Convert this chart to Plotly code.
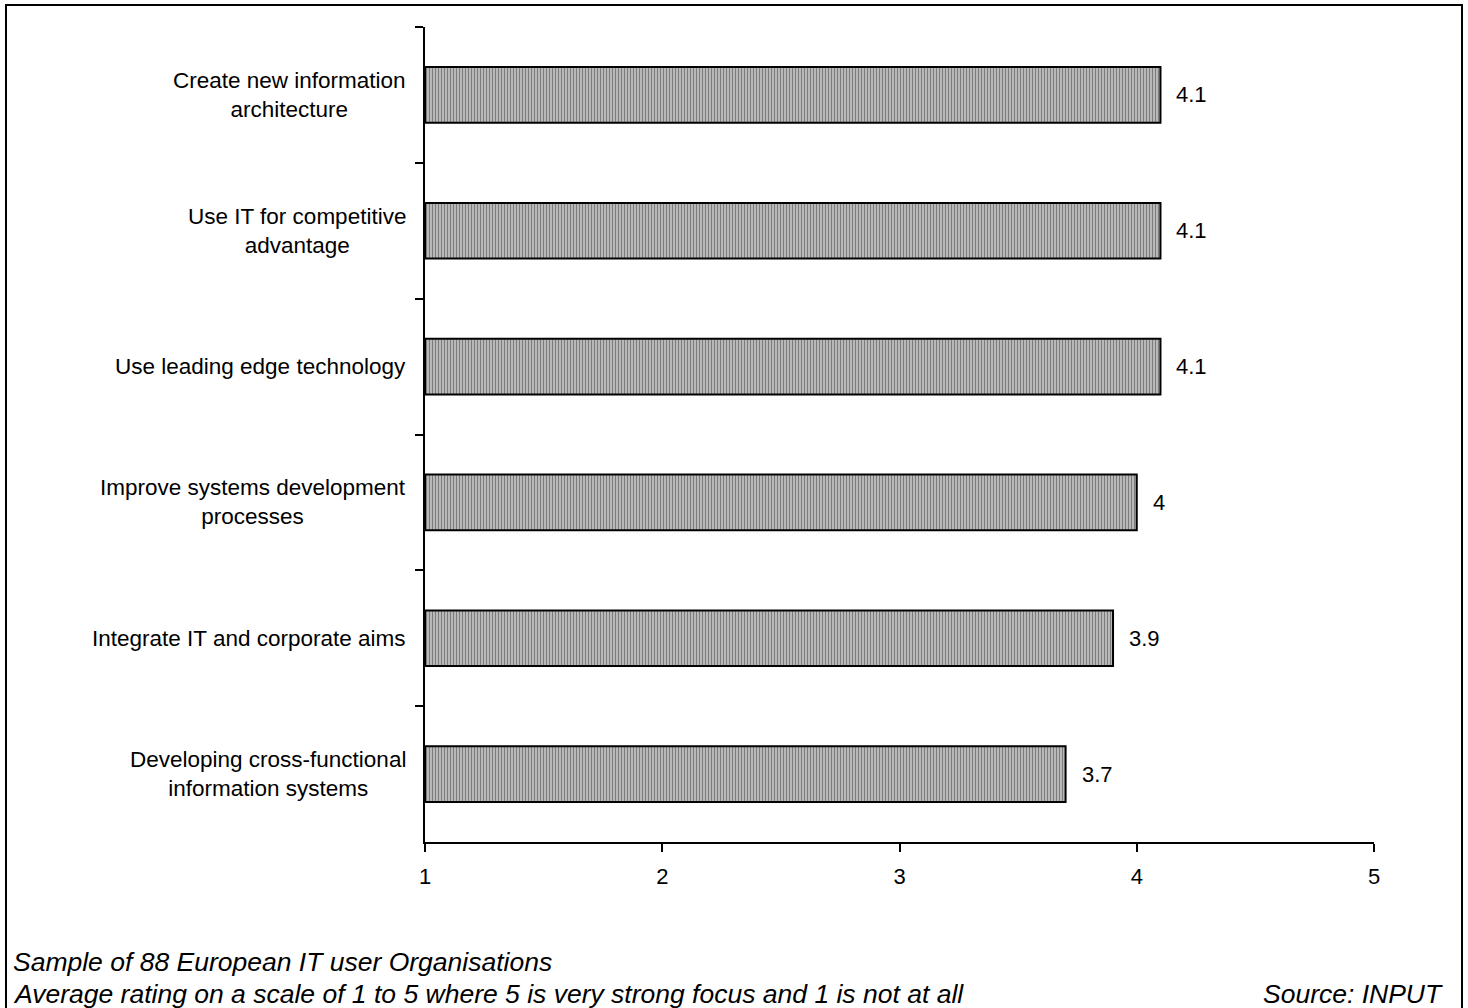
import plotly.graph_objects as go

categories = [
    "Create new information<br>architecture",
    "Use IT for competitive<br>advantage",
    "Use leading edge technology",
    "Improve systems development<br>processes",
    "Integrate IT and corporate aims",
    "Developing cross-functional<br>information systems",
]
values = [4.1, 4.1, 4.1, 4.0, 3.9, 3.7]
value_labels = ["4.1", "4.1", "4.1", "4", "3.9", "3.7"]
x_ticks = [1, 2, 3, 4, 5]
footer_lines = [
    "Sample of 88 European IT user Organisations",
    "Average rating on a scale of 1 to 5 where 5 is very strong focus and 1 is not at all",
]
source_text = "Source: INPUT"

FONT = "Liberation Sans, Arial, sans-serif"
W, H = 1468, 1008
L, R, T, B = 425, 94, 27, 166
PW, PH = W - L - R, H - T - B

def px_x(p):
    return (p - L) / PW

def px_y(p):
    return (H - B - p) / PH

fig = go.Figure()
fig.add_trace(go.Bar(
    x=[v - 1 for v in values],
    base=1,
    y=categories,
    orientation="h",
    width=0.41,
    marker=dict(
        color="#bdbdbd",
        line=dict(color="black", width=2),
        pattern=dict(shape="|", fgcolor="#333333", bgcolor="#c4c4c4", size=3, solidity=0.45),
    ),
    hoverinfo="skip",
))

annotations = []
for c, v, lab in zip(categories, values, value_labels):
    annotations.append(dict(
        x=v, y=c, xref="x", yref="y", text=lab, showarrow=False,
        xanchor="left", yanchor="middle", xshift=14,
        font=dict(family=FONT, size=22, color="black"),
    ))
    annotations.append(dict(
        x=0, y=c, xref="paper", yref="y", text=c, showarrow=False,
        xanchor="right", yanchor="middle", align="center", xshift=-17,
        font=dict(family=FONT, size=22.5, color="black"),
    ))

annotations.append(dict(
    x=px_x(11), y=px_y(962), xref="paper", yref="paper", text=f"<i>{footer_lines[0]}</i>",
    showarrow=False, xanchor="left", yanchor="middle",
    font=dict(family=FONT, size=26.5, color="black"),
))
annotations.append(dict(
    x=px_x(11), y=px_y(994), xref="paper", yref="paper", text=f"<i>{footer_lines[1]}</i>",
    showarrow=False, xanchor="left", yanchor="middle",
    font=dict(family=FONT, size=26.5, color="black"),
))
annotations.append(dict(
    x=px_x(1445), y=px_y(994), xref="paper", yref="paper", text=f"<i>{source_text}</i>",
    showarrow=False, xanchor="right", yanchor="middle",
    font=dict(family=FONT, size=26.5, color="black"),
))

fig.update_layout(
    width=W, height=H,
    margin=dict(l=L, r=R, t=T, b=B),
    paper_bgcolor="white", plot_bgcolor="white",
    showlegend=False,
    annotations=annotations,
    shapes=[dict(
        type="rect", xref="paper", yref="paper",
        x0=px_x(6), x1=px_x(1462), y0=px_y(1030), y1=px_y(5),
        line=dict(color="black", width=2), fillcolor="rgba(0,0,0,0)", layer="below",
    )],
    xaxis=dict(
        range=[1, 5], tickvals=x_ticks, ticktext=[str(t) for t in x_ticks],
        showgrid=False, zeroline=False, showline=True, linecolor="black", linewidth=2,
        ticks="outside", ticklen=8, tickwidth=2, tickcolor="black", ticklabelstandoff=6,
        tickfont=dict(family=FONT, size=22, color="black"),
    ),
    yaxis=dict(
        autorange="reversed", type="category",
        showgrid=False, zeroline=False, showline=True, linecolor="black", linewidth=2,
        ticks="outside", ticklen=8, tickwidth=2, tickcolor="black", tickson="boundaries",
        showticklabels=False,
    ),
)

fig.write_html("out.html")
